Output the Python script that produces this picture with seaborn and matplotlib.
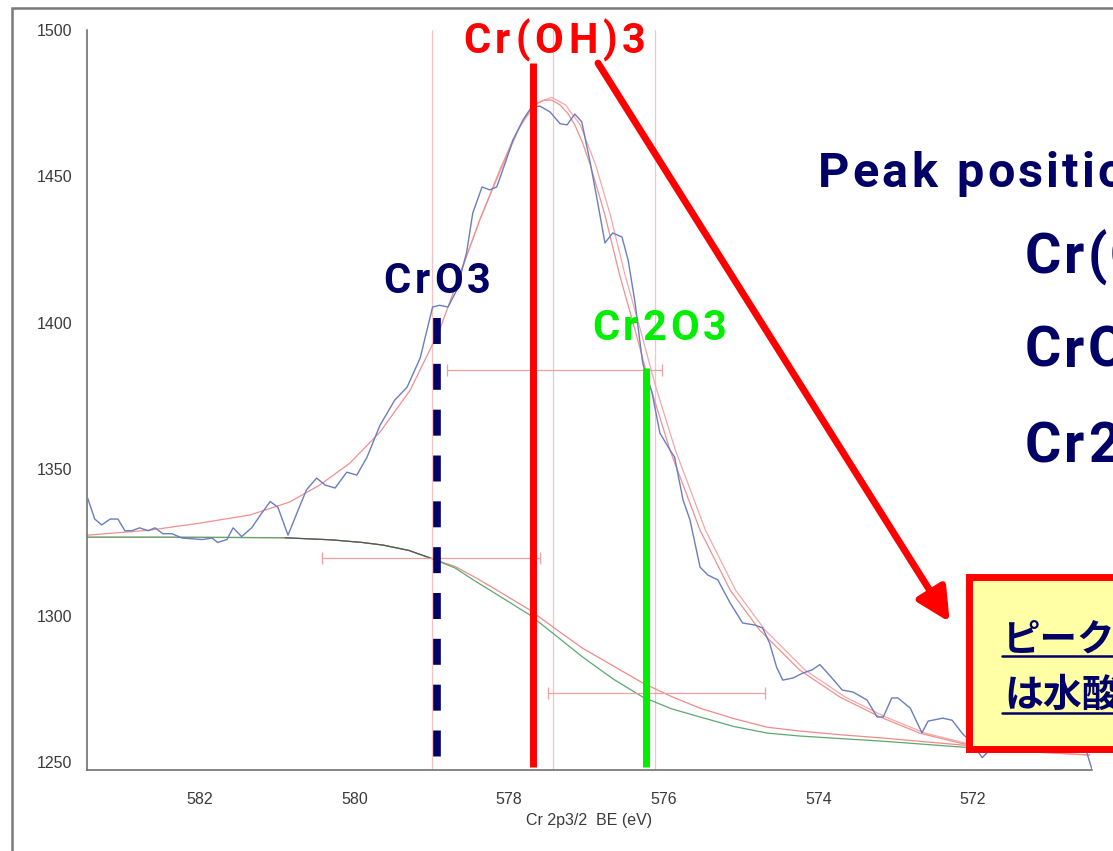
import numpy as np
import pandas as pd
import matplotlib
matplotlib.use("Agg")
import matplotlib.pyplot as plt
import seaborn as sns
from matplotlib.ticker import MultipleLocator
from matplotlib.patches import Rectangle
from matplotlib.lines import Line2D
from matplotlib import font_manager as fm

# ---------------- data ----------------
blue_be = [583.45, 583.36, 583.27, 583.16, 583.06, 582.97, 582.88, 582.78, 582.67, 582.58,
           582.48, 582.36, 582.23, 581.97, 581.84, 581.77, 581.65, 581.57, 581.46, 581.33,
           581.20, 581.09, 580.99, 580.86, 580.73, 580.62, 580.49, 580.38, 580.25, 580.10,
           579.97, 579.84, 579.67, 579.48, 579.32, 579.15, 578.99, 578.90, 578.79, 578.68,
           578.55, 578.47, 578.35, 578.25, 578.16, 578.05, 577.95, 577.82, 577.71, 577.60,
           577.47, 577.34, 577.25, 577.15, 577.06, 576.95, 576.86, 576.76, 576.66, 576.54,
           576.46, 576.37, 576.31, 576.27, 576.15, 576.05, 575.92, 575.86, 575.75, 575.66,
           575.53, 575.43, 575.30, 575.14, 574.98, 574.82, 574.72, 574.63, 574.54, 574.46,
           574.33, 574.20, 574.08, 573.98, 573.88, 573.69, 573.55, 573.37, 573.24, 573.16,
           573.05, 572.97, 572.81, 572.66, 572.58, 572.39, 572.27, 572.14, 572.00, 571.88,
           571.75, 571.40, 571.05, 570.75, 570.53, 570.46]
blue_cps = [1340, 1333, 1331, 1333, 1333, 1329, 1329, 1330, 1329, 1330,
            1328, 1328, 1326.5, 1326, 1326.5, 1325, 1326, 1330, 1327, 1330,
            1335, 1339, 1337, 1327.5, 1336, 1343, 1347, 1344.6, 1343.6, 1349,
            1348, 1354, 1365, 1373.6, 1378, 1388, 1405.4, 1406, 1405.4, 1411,
            1424, 1437.5, 1446.4, 1445.4, 1446.4, 1454.6, 1462.4, 1469.3, 1473.7, 1474,
            1472, 1468, 1467.6, 1471.3, 1468.6, 1454.6, 1441.9, 1427.3, 1430.7, 1429.3,
            1421.4, 1406.8, 1394, 1386, 1376, 1362.4, 1356.6, 1354.2, 1339.5, 1332.7,
            1316.6, 1313.9, 1312.2, 1304.3, 1297.5, 1296.8, 1295.8, 1290.6, 1282.4, 1278,
            1278.7, 1280.4, 1281.5, 1283.3, 1280.4, 1274.6, 1273.9, 1271.2, 1265.4, 1265.4,
            1271.9, 1271.9, 1268.4, 1260, 1264, 1265, 1264.3, 1259.9, 1256, 1251.5,
            1255, 1258, 1257, 1258, 1253.5, 1247.5]

env_be = [583.45, 582.65, 582.0, 581.35, 580.84, 580.45, 580.06, 579.67, 579.28, 578.90,
          578.64, 578.38, 578.12, 577.95, 577.80, 577.67, 577.55, 577.45, 577.34, 577.24,
          577.15, 577.05, 576.95, 576.76, 576.57, 576.37, 576.18, 575.92, 575.53, 575.14,
          574.76, 574.24, 573.72, 573.20, 572.69, 572.17, 571.65, 570.49]
env_cps = [1327.5, 1329.2, 1331.6, 1334.4, 1338.8, 1344.6, 1352.1, 1362.7, 1377.0, 1397.5,
           1416.3, 1435.1, 1452.2, 1462.5, 1470.0, 1474.4, 1476.0, 1476.1, 1474.4, 1471.5,
           1467.6, 1461.5, 1453.9, 1436.8, 1416.3, 1397.5, 1378.8, 1356.6, 1329.2, 1308.7,
           1295.1, 1281.4, 1272.2, 1265.4, 1259.9, 1256.5, 1254.1, 1252.4]

comp_be = [578.64, 578.38, 578.12, 577.86, 577.65, 577.45, 577.27, 577.08, 576.88, 576.69,
           576.50, 576.30, 576.11, 575.85, 575.46, 575.07, 574.69, 574.17, 573.65, 573.13,
           572.62, 572.10, 571.60, 570.49]
comp_cps = [1416.3, 1435.1, 1451.5, 1467.0, 1475.0, 1477.0, 1474.4, 1467.6, 1453.9, 1436.8,
            1416.3, 1397.5, 1378.8, 1356.6, 1329.2, 1308.7, 1295.1, 1281.4, 1272.2, 1265.4,
            1259.9, 1256.5, 1254.1, 1252.4]

bg_be = [583.45, 582.5, 581.5, 580.9, 580.3, 579.9, 579.63, 579.3, 579.02, 578.7,
         578.42, 578.1, 577.73, 577.4, 577.05, 576.65, 576.27, 575.9, 575.53, 575.1,
         574.66, 574.24, 573.7, 573.2, 572.13, 570.49]
bg_green = [1326.8, 1326.8, 1326.7, 1326.6, 1325.9, 1325.0, 1324.1, 1322.3, 1319.7, 1316.3,
            1311.5, 1306.3, 1300.2, 1293.3, 1285.9, 1278.3, 1272.2, 1268.2, 1265.4, 1262.2,
            1259.9, 1258.9, 1258.0, 1257.2, 1255.1, 1254.1]
bg_red = [1326.8, 1326.8, 1326.7, 1326.6, 1325.9, 1325.0, 1324.1, 1322.3, 1319.7, 1316.8,
          1312.8, 1307.8, 1301.9, 1295.5, 1288.9, 1282.8, 1277.0, 1272.4, 1268.4, 1264.9,
          1261.9, 1260.6, 1259.3, 1258.3, 1255.8, 1254.8]

fit_centers = [579.00, 577.43, 576.11]
fwhm_left = [580.42, 578.80, 577.50]
fwhm_right = [577.60, 576.02, 574.69]
fwhm_level = [1319.7, 1383.9, 1273.6]

ref_labels = ["Cr(OH)3", "CrO3", "Cr2O3"]
ref_be = [577.69, 578.93, 576.23]
ref_top = [1488.7, 1401.6, 1384.6]

xticks = [582, 580, 578, 576, 574, 572]
yticks = [1250, 1300, 1350, 1400, 1450, 1500]

NAVY = "#000066"
LIME = "#00ee00"
RED = "#ff0000"

# ---------------- style / fonts ----------------
sns.set_style("white")
names = {f.name for f in fm.fontManager.ttflist}
if "Liberation Sans Narrow" in names:
    ANN = dict(family=["Liberation Sans Narrow", "DejaVu Sans"], weight="bold")
elif "Roboto" in names:
    ANN = dict(family=["Roboto", "DejaVu Sans"], weight="bold")
else:
    ANN = dict(family=["DejaVu Sans"], weight="bold")
TICKFONT = "Liberation Sans" if "Liberation Sans" in names else "DejaVu Sans"
plt.rcParams["font.family"] = [TICKFONT, "DejaVu Sans"]

W, H = 1113, 851
fig = plt.figure(figsize=(W / 100, H / 100), dpi=100)
fig.patch.set_facecolor("white")
ax = fig.add_axes([87 / W, 81 / H, (1092 - 87) / W, (770 - 30) / H])
ax.set_facecolor("white")

# outer scanned frame
fig.add_artist(Rectangle((12 / W, -0.2), 1.5, (1 - 8 / H) + 0.2, transform=fig.transFigure,
                         fill=False, ec="#7a7a7a", lw=1.8, zorder=0.5))

# ---------------- curves ----------------
for c in fit_centers:
    ax.axvline(c, color="#f6c2c2", lw=0.9, zorder=1)

sns.lineplot(x=bg_be, y=bg_red, ax=ax, color="#ee8a8a", lw=0.9, sort=False, estimator=None, zorder=2)
sns.lineplot(x=bg_be, y=bg_green, ax=ax, color="#5aa870", lw=0.9, sort=False, estimator=None, zorder=2)
sns.lineplot(x=bg_be[3:9], y=bg_green[3:9], ax=ax, color="#555555", lw=0.8, sort=False, estimator=None, zorder=2)
sns.lineplot(x=comp_be, y=comp_cps, ax=ax, color="#f3a8a8", lw=0.9, sort=False, estimator=None, zorder=2)
sns.lineplot(x=env_be, y=env_cps, ax=ax, color="#f09090", lw=0.9, sort=False, estimator=None, zorder=2)
sns.lineplot(x=blue_be, y=blue_cps, ax=ax, color="#6a7dbf", lw=1.0, sort=False, estimator=None, zorder=3)

for l, r, lev in zip(fwhm_left, fwhm_right, fwhm_level):
    ax.errorbar([(l + r) / 2], [lev], xerr=[(l - r) / 2], color="#f0a0a0", lw=0.9,
                capsize=4, capthick=0.9, fmt="none", zorder=2)

# reference lines (drawn from the top down)
bottom = 1248.4
ax.plot([ref_be[0]] * 2, [ref_top[0], bottom], color=RED, lw=5, zorder=5, solid_capstyle="butt")
ax.plot([ref_be[1]] * 2, [ref_top[1], bottom], color=NAVY, lw=5.5, zorder=5,
        linestyle=(0, (3.4, 2.6)), dash_capstyle="butt")
ax.plot([ref_be[2]] * 2, [ref_top[2], bottom], color=LIME, lw=5, zorder=5, solid_capstyle="butt")

# arrow
ax.annotate("", xy=(572.30, 1297.8), xytext=(576.85, 1488.7),
            arrowprops=dict(arrowstyle="-|>,head_length=2.0,head_width=1.0", mutation_scale=10,
                            lw=5, color=RED, shrinkA=0, shrinkB=0), zorder=6)

# ---------------- axes ----------------
ax.set_xlim(583.46, 570.46)
ax.set_ylim(1247.3, 1500)
ax.set_xticks(xticks)
ax.set_yticks(yticks)
ax.xaxis.set_minor_locator(MultipleLocator(0.5))
ax.yaxis.set_minor_locator(MultipleLocator(10))
for s in ["top", "right"]:
    ax.spines[s].set_visible(False)
for s in ["left", "bottom"]:
    ax.spines[s].set_color("#666666")
    ax.spines[s].set_linewidth(1.1)
ax.tick_params(which="major", direction="out", length=7, width=1, color="#666666",
               labelsize=11.5, labelcolor="#3a3a3a")
ax.tick_params(which="minor", direction="out", length=2.5, width=0.8, color="#777777")
ax.tick_params(axis="x", which="major", pad=9)
ax.tick_params(axis="y", which="major", pad=3.5)
ax.set_xlabel("Cr 2p3/2  BE (eV)", fontsize=11.5, color="#3a3a3a", labelpad=4)
ax.set_ylabel("")

# ---------------- spaced annotation text ----------------
renderer = fig.canvas.get_renderer()


def char_w(ch, size, kw):
    if ch == " ":
        return size * 100 / 72 * 0.28
    t = fig.text(0, 0, ch, fontsize=size, **kw)
    w = t.get_window_extent(renderer).width
    t.remove()
    return w


def spaced(s, x0, base, size, color, k, xk, kw, min_track=3, shrink=True):
    while True:
        ws = [char_w(c, size, kw) for c in s]
        track = (xk - x0 - sum(ws[:k])) / k
        if track >= min_track or size < 8 or not shrink:
            break
        size *= 0.96
    track = max(track, min_track)
    x = x0
    for c, w in zip(s, ws):
        if x >= W - 1:
            break
        if c != " ":
            fig.text(x / W, 1 - base / H, c, fontsize=size, color=color, ha="left",
                     va="baseline", zorder=7, **kw)
        x += w + track


spaced("Cr(OH)3", 463, 53, 30, RED, 6, 622, ANN)
spaced("CrO3", 383, 293, 30, NAVY, 3, 467, ANN)
spaced("Cr2O3", 592, 340, 30, LIME, 4, 703, ANN)
spaced("Peak position", 818, 187, 35, NAVY, 11, 1097, ANN)
spaced("Cr(OH)3", 1025, 273, 40, NAVY, 2, 1085, ANN, min_track=3, shrink=False)
spaced("CrO3", 1025, 367, 40, NAVY, 2, 1078, ANN, min_track=3, shrink=False)
spaced("Cr2O3", 1025, 462, 40, NAVY, 2, 1085, ANN, min_track=3, shrink=False)

# yellow box with Japanese note
fig.add_artist(Rectangle((968.5 / W, 1 - 748.5 / H), (1250 - 968.5) / W, (748.5 - 576.5) / H,
                         transform=fig.transFigure, fc="#ffffa6", ec=RED, lw=5, zorder=6))
JP = dict(family=["Noto Sans CJK JP", "DejaVu Sans"], weight="bold")
fig.text(1002 / W, 1 - 651 / H, "ピークか", fontsize=27, color=NAVY, ha="left",
         va="baseline", zorder=7, **JP)
fig.text(1004 / W, 1 - 707 / H, "は水酸", fontsize=28, color=NAVY, ha="left",
         va="baseline", zorder=7, **JP)
for yy in (656, 713):
    fig.add_artist(Line2D([1002 / W, 1.05], [1 - yy / H] * 2, transform=fig.transFigure,
                          color=NAVY, lw=1.8, zorder=7))

fig.savefig("out.png", dpi=100, facecolor="white")
